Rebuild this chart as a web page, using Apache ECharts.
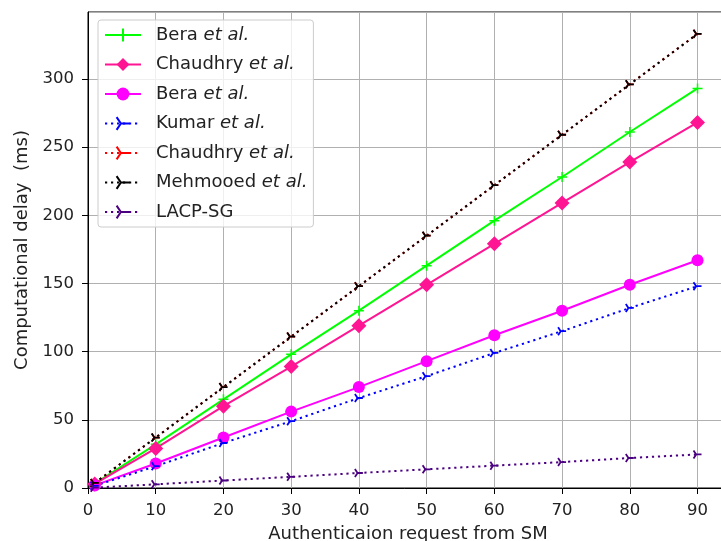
<!DOCTYPE html>
<html><head><meta charset="utf-8">
<script src="https://cdn.jsdelivr.net/npm/echarts@6/dist/echarts.min.js"></script>
<style>html,body{margin:0;padding:0;background:#fff}#c{width:721px;height:541px}</style>
</head><body><div id="c"></div>
<script>
const xValues = [1, 10, 20, 30, 40, 50, 60, 70, 80, 90];
const beraA = [3.3, 32, 65, 98, 130, 163, 196, 228, 261, 293];
const chaudhryA = [3, 29, 60, 89, 119, 149, 179, 209, 239, 268];
const beraB = [1.9, 18, 37, 56, 74, 93, 112, 130, 149, 167];
const kumar = [1.6, 16, 33, 49, 66, 82, 99, 115, 132, 148];
const chaudhryB = [3.7, 37, 74, 111, 148, 185, 222, 259, 296, 333];
const mehmooed = [3.7, 37, 74, 111, 148, 185, 222, 259, 296, 333];
const lacp = [0.27, 2.7, 5.5, 8.2, 11, 13.7, 16.4, 19, 22, 24.6];
const xTicks = [0, 10, 20, 30, 40, 50, 60, 70, 80, 90];
const yTicks = [0, 50, 100, 150, 200, 250, 300];

const pair = arr => xValues.map((x, i) => [x, arr[i]]);
const FONT = 'DejaVu Sans';
const plus = 'path://M-5,0L5,0M0,-5L0,5';
const tri = 'path://M0,0L10,0M0,0L-5,8.66M0,0L-5,-8.66';

function solid(name, data, color, symbol, size, isStroke) {
  return {
    name, type: 'line', data: pair(data), symbol, symbolSize: size,
    showSymbol: true,
    lineStyle: { color, width: 2 },
    itemStyle: isStroke ? { color: 'rgba(0,0,0,0)', borderColor: color, borderWidth: 1.5 } : { color, borderWidth: 0 },
    emphasis: { disabled: true }, animation: false
  };
}
function dotted(name, data, color) {
  return {
    name, type: 'line', data: pair(data), symbol: tri, symbolSize: [8, 8],
    showSymbol: true,
    lineStyle: { color, width: 2, type: [2.2, 3.8] },
    itemStyle: { color: 'rgba(0,0,0,0)', borderColor: color, borderWidth: 1.8 },
    emphasis: { disabled: true }, animation: false
  };
}

const names = ['Bera {i|et al.}', 'Chaudhry {i|et al.} ', 'Bera {i|et al.} ', 'Kumar {i|et al.}', 'Chaudhry {i|et al.}  ', 'Mehmooed {i|et al.}', 'LACP-SG'];

const chart = echarts.init(document.getElementById('c'), null, { renderer: 'canvas' });
chart.setOption({
  animation: false,
  backgroundColor: '#fff',
  grid: { left: 88, top: 12, bottom: 53, right: -7, show: true, borderColor: '#000', borderWidth: 1,
    containLabel: false, outerBoundsMode: 'none' },
  legend: {
    left: 98, top: 20, orient: 'vertical',
    padding: [6, 6, 6, 6], itemWidth: 36, itemHeight: 16, itemGap: 11.5,
    backgroundColor: 'rgba(255,255,255,0.8)', borderColor: '#cccccc', borderWidth: 1, borderRadius: 3,
    textStyle: { fontFamily: FONT, fontSize: 18, color: '#222', lineHeight: 18, padding: [0, 0, 0, 10],
      rich: { i: { fontStyle: 'italic', fontFamily: FONT, fontSize: 18, color: '#222' } } },
    formatter: n => n.trim(),
    data: names
  },
  xAxis: {
    type: 'value', min: 0, max: 94.5, interval: 10,
    name: 'Authenticaion request from SM', nameLocation: 'middle', nameGap: 37,
    nameTextStyle: { fontFamily: FONT, fontSize: 18, color: '#222' },
    axisLine: { show: true, onZero: false, lineStyle: { color: '#000', width: 1 } },
    axisTick: { show: true, length: 6, lineStyle: { color: '#000' } },
    axisLabel: { fontFamily: FONT, fontSize: 16.5, color: '#222', margin: 14, showMaxLabel: false,
      formatter: v => xTicks.includes(v) ? String(v) : '' },
    splitLine: { show: true, lineStyle: { color: '#b0b0b0', width: 1 } }
  },
  yAxis: {
    type: 'value', min: 0, max: 349, interval: 50,
    name: 'Computational delay  (ms)', nameLocation: 'middle', nameGap: 56,
    nameTextStyle: { fontFamily: FONT, fontSize: 18, color: '#222' },
    axisLine: { show: true, onZero: false, lineStyle: { color: '#000', width: 1 } },
    axisTick: { show: true, length: 6, lineStyle: { color: '#000' } },
    axisLabel: { fontFamily: FONT, fontSize: 16.5, color: '#222', margin: 14, showMaxLabel: false,
      verticalAlign: 'middle',
      formatter: v => yTicks.includes(v) ? String(v) : '' },
    splitLine: { show: true, lineStyle: { color: '#b0b0b0', width: 1 } }
  },
  series: [
    solid(names[0], beraA, '#00ff00', plus, 10, true),
    solid(names[1], chaudhryA, '#ff1493', 'diamond', 15, false),
    solid(names[2], beraB, '#ff00ff', 'circle', 12, false),
    dotted(names[3], kumar, '#0000ff'),
    dotted(names[4], chaudhryB, '#ff0000'),
    dotted(names[5], mehmooed, '#000000'),
    dotted(names[6], lacp, '#4b0082')
  ]
});
</script></body></html>
